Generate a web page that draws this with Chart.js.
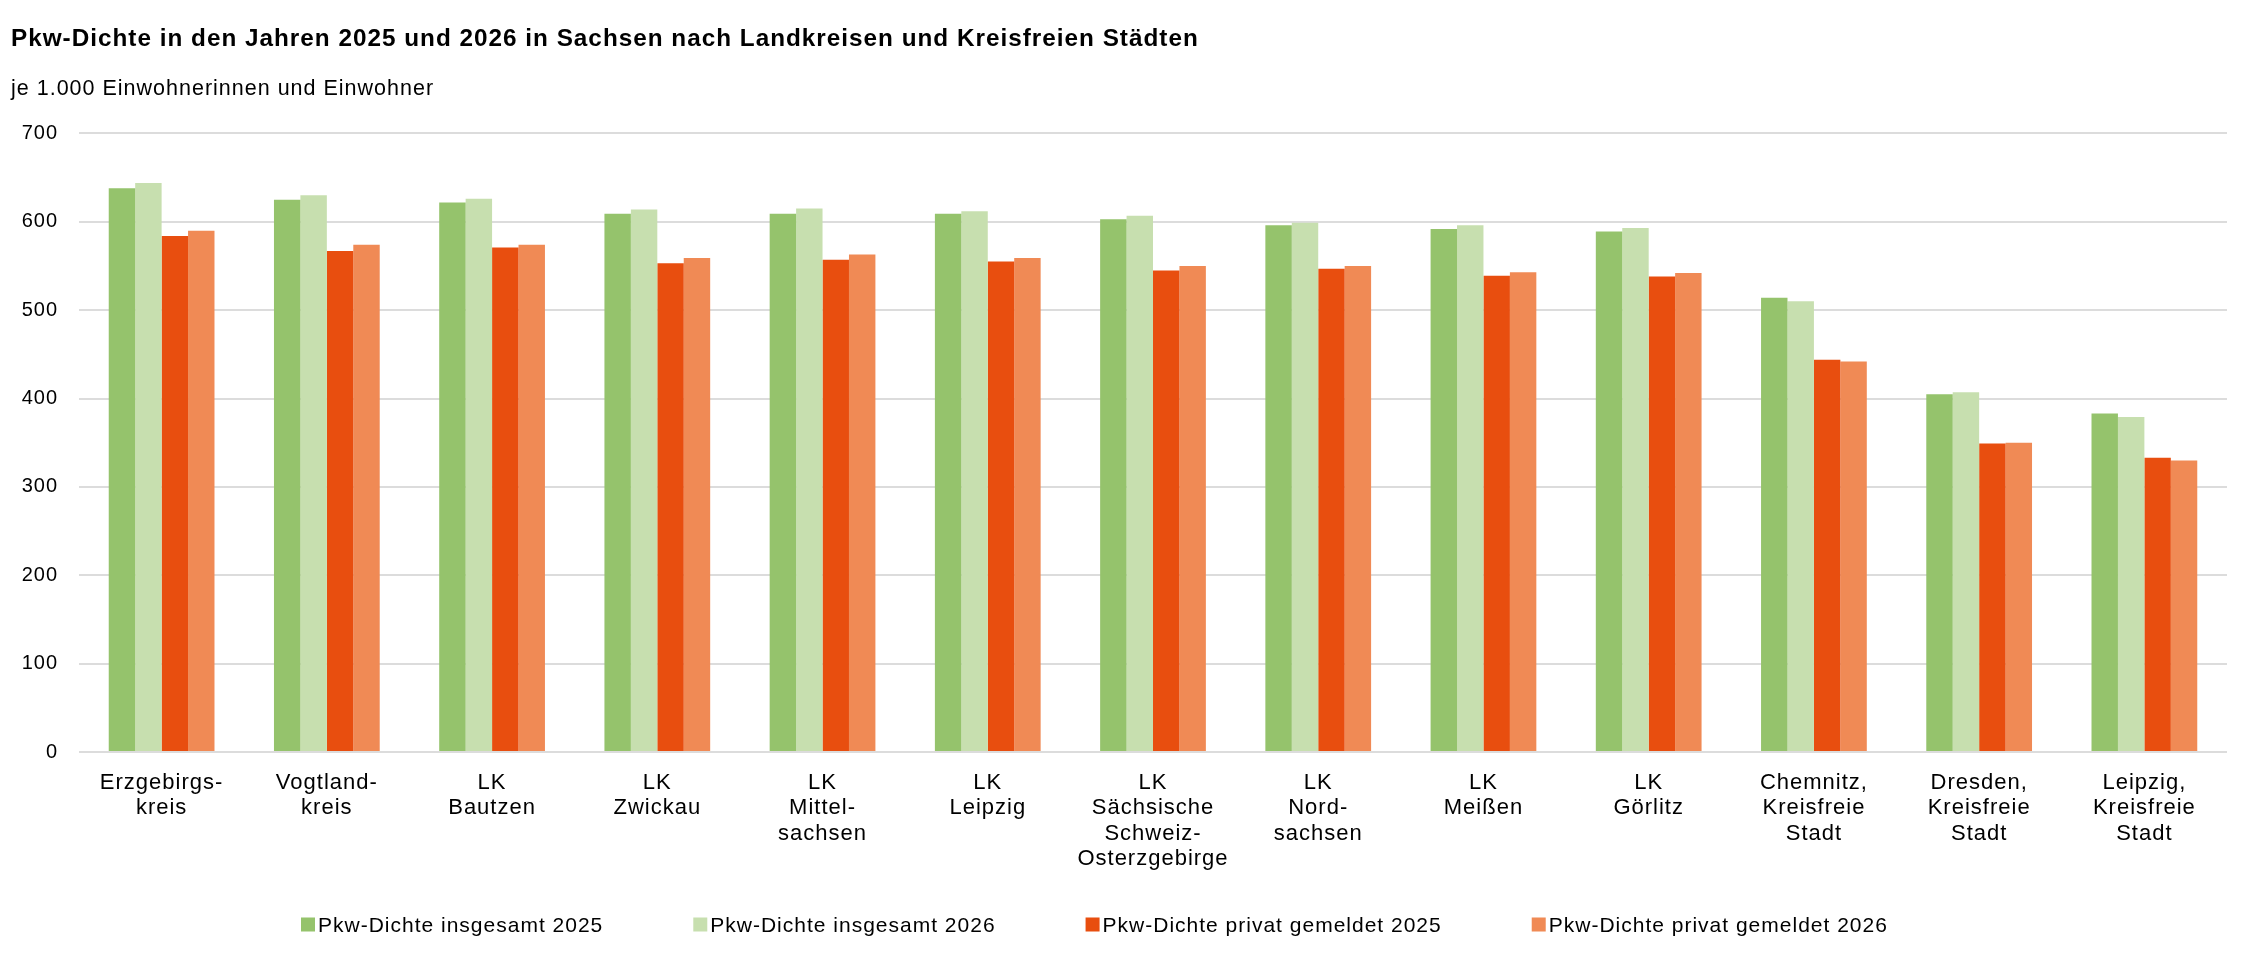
<!DOCTYPE html>
<html>
<head>
<meta charset="utf-8">
<script src="https://cdn.jsdelivr.net/npm/chart.js@4.4.1/dist/chart.umd.min.js"></script>
<style>
  html, body { margin: 0; padding: 0; background: #ffffff; }
  #wrap { width: 2250px; height: 967px; }
</style>
</head>
<body>
<div id="wrap"><canvas id="c" width="2250" height="967"></canvas></div>
<script>
const categories = [
  ["Erzgebirgs-", "kreis"],
  ["Vogtland-", "kreis"],
  ["LK", "Bautzen"],
  ["LK", "Zwickau"],
  ["LK", "Mittel-", "sachsen"],
  ["LK", "Leipzig"],
  ["LK", "Sächsische", "Schweiz-", "Osterzgebirge"],
  ["LK", "Nord-", "sachsen"],
  ["LK", "Meißen"],
  ["LK", "Görlitz"],
  ["Chemnitz,", "Kreisfreie", "Stadt"],
  ["Dresden,", "Kreisfreie", "Stadt"],
  ["Leipzig,", "Kreisfreie", "Stadt"]
];
const insgesamt2025 = [638, 625, 622, 609, 609, 609, 603, 596, 592, 589, 514, 405, 383];
const insgesamt2026 = [644, 630, 626, 614, 615, 612, 607, 599, 596, 593, 510, 407, 379];
const privat2025    = [584, 567, 571, 553, 557, 555, 545, 547, 539, 538, 444, 349, 333];
const privat2026    = [590, 574, 574, 559, 563, 559, 550, 550, 543, 542, 442, 350, 330];
const seriesNames = [
  "Pkw-Dichte insgesamt 2025",
  "Pkw-Dichte insgesamt 2026",
  "Pkw-Dichte privat gemeldet 2025",
  "Pkw-Dichte privat gemeldet 2026"
];
const yTicks = [0, 100, 200, 300, 400, 500, 600, 700];
const titleText = "Pkw-Dichte in den Jahren 2025 und 2026 in Sachsen nach Landkreisen und Kreisfreien Städten";
const subtitleText = "je 1.000 Einwohnerinnen und Einwohner";

const FONT = "'Liberation Sans', Arial, Helvetica, sans-serif";
const LS = '1px';

const spacingPlugin = {
  id: 'spacing',
  afterInit(chart) { chart.ctx.letterSpacing = LS; },
  beforeUpdate(chart) { chart.ctx.letterSpacing = LS; },
  beforeDraw(chart) { chart.ctx.letterSpacing = LS; }
};

// legend drawn below the axis labels, entries taken from the datasets
const legendPlugin = {
  id: 'bottomLegend',
  afterDraw(chart) {
    const ctx = chart.ctx;
    const o = chart.options.plugins.bottomLegend;
    ctx.save();
    ctx.letterSpacing = LS;
    ctx.font = o.fontSize + 'px ' + FONT;
    ctx.textBaseline = 'alphabetic';
    ctx.textAlign = 'left';
    let x = o.startX;
    chart.data.datasets.forEach(ds => {
      ctx.fillStyle = ds.backgroundColor;
      ctx.fillRect(x, o.boxTop, o.box, o.box);
      x += o.box + o.textGap;
      ctx.fillStyle = '#000';
      ctx.fillText(ds.label, x, o.baseline);
      x += ctx.measureText(ds.label).width + o.itemGap;
    });
    ctx.restore();
  }
};

new Chart(document.getElementById('c'), {
  type: 'bar',
  data: {
    labels: categories,
    datasets: [
      { label: seriesNames[0], data: insgesamt2025, backgroundColor: '#95C36C' },
      { label: seriesNames[1], data: insgesamt2026, backgroundColor: '#C7DFAF' },
      { label: seriesNames[2], data: privat2025, backgroundColor: '#E84E0F' },
      { label: seriesNames[3], data: privat2026, backgroundColor: '#F08A55' }
    ]
  },
  plugins: [spacingPlugin, legendPlugin],
  options: {
    responsive: false,
    devicePixelRatio: 1,
    animation: false,
    layout: { padding: { left: 11, right: 23, top: 0, bottom: 0 } },
    datasets: { bar: { categoryPercentage: 0.64, barPercentage: 1.0, borderWidth: 0 } },
    scales: {
      x: {
        grid: { display: false, drawTicks: false },
        border: { display: false },
        ticks: {
          autoSkip: false, maxRotation: 0, minRotation: 0,
          color: '#000', padding: 18,
          font: { family: FONT, size: 22, lineHeight: 1.155 }
        },
        afterFit(scale) { scale.height = 215; }
      },
      y: {
        min: 0, max: 700,
        afterBuildTicks(scale) { scale.ticks = yTicks.map(v => ({ value: v })); },
        grid: { color: '#dcdcdc', lineWidth: 2, drawTicks: false },
        border: { display: false },
        ticks: {
          color: '#000', padding: 21,
          font: { family: FONT, size: 20 }
        },
        afterFit(scale) { scale.width = 68; }
      }
    },
    plugins: {
      title: {
        display: true, text: titleText, align: 'start', color: '#000',
        font: { family: FONT, size: 24.3, weight: 'bold', lineHeight: 1.2 },
        padding: { top: 24.4, bottom: 0 }
      },
      subtitle: {
        display: true, text: subtitleText, align: 'start', color: '#000',
        font: { family: FONT, size: 21.5, weight: 'normal', lineHeight: 1.2 },
        padding: { top: 22.5, bottom: 31.6 }
      },
      legend: { display: false },
      bottomLegend: {
        startX: 301, boxTop: 917.5, box: 14, textGap: 3, baseline: 931.5,
        fontSize: 21, itemGap: 90
      },
      tooltip: { enabled: false }
    }
  }
});
</script>
</body>
</html>
